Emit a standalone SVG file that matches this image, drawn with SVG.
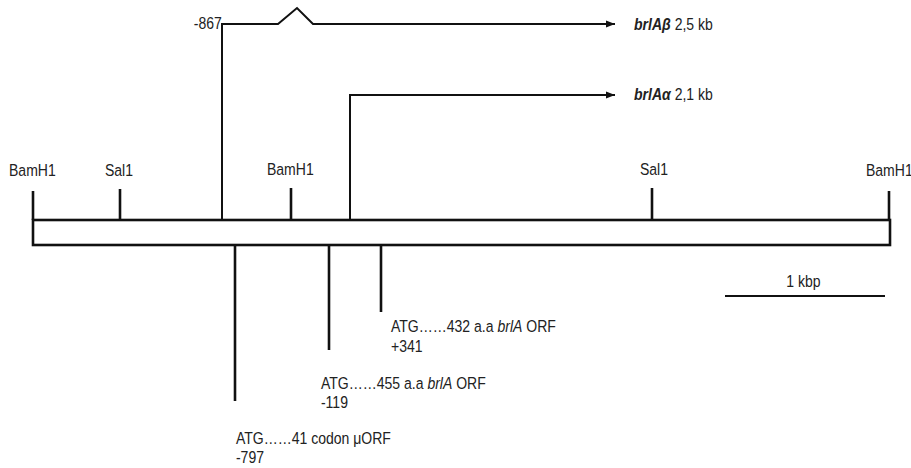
<svg xmlns="http://www.w3.org/2000/svg" width="911" height="468" viewBox="0 0 911 468">
<defs>
<marker id="ah" viewBox="0 0 10 10" refX="10" refY="5" markerWidth="10" markerHeight="9" markerUnits="userSpaceOnUse" orient="auto">
<path d="M0,1 L10,5 L0,9 Z" fill="#111"/>
</marker>
<style>
text{font-family:"Liberation Sans",Arial,sans-serif;font-size:16.5px;fill:#222}
.bi{font-weight:bold;font-style:italic}
.it{font-style:italic}
.ln{stroke:#111;stroke-width:2.6;fill:none}
.th{stroke:#111;stroke-width:2;fill:none}
</style>
</defs>
<rect width="911" height="468" fill="#fff"/>
<g id="plasmid">
<rect x="33" y="220" width="857" height="25" class="ln" fill="#fff"/>
</g>
<g id="connectors">
<path class="th" d="M222,220 V24 H278 L297,8 L313,24 H615" marker-end="url(#ah)"/>
<path class="th" d="M350,220 V95 H615" marker-end="url(#ah)"/>
<line class="ln" x1="33" y1="191" x2="33" y2="220"/>
<line class="ln" x1="120" y1="189" x2="120" y2="220"/>
<line class="ln" x1="291" y1="188" x2="291" y2="220"/>
<line class="ln" x1="652" y1="188" x2="652" y2="220"/>
<line class="ln" x1="889" y1="191" x2="889" y2="220"/>
<line class="ln" x1="235" y1="245" x2="235" y2="401"/>
<line class="ln" x1="329" y1="245" x2="329" y2="350"/>
<line class="ln" x1="381" y1="245" x2="381" y2="312"/>
<line class="th" x1="725" y1="296" x2="885" y2="296"/>
</g>
<g id="labels" transform="scale(0.85 1)">
<text x="228" y="29">-867</text>
<text x="745.9" y="30"><tspan class="bi">brlAβ</tspan> 2,5 kb</text>
<text x="745.9" y="100"><tspan class="bi">brlAα</tspan> 2,1 kb</text>
<text x="10.6" y="176">BamH1</text>
<text x="123.5" y="176">Sal1</text>
<text x="314.1" y="175">BamH1</text>
<text x="752.9" y="175">Sal1</text>
<text x="1018.8" y="176">BamH1</text>
<text x="925" y="287">1 kbp</text>
<text x="460" y="332">ATG……432 a.a <tspan class="it">brlA</tspan> ORF</text>
<text x="460" y="352">+341</text>
<text x="377.6" y="389">ATG……455 a.a <tspan class="it">brlA</tspan> ORF</text>
<text x="377.6" y="408">-119</text>
<text x="277.6" y="444">ATG……41 codon μORF</text>
<text x="277.6" y="463">-797</text>
</g>
</svg>
